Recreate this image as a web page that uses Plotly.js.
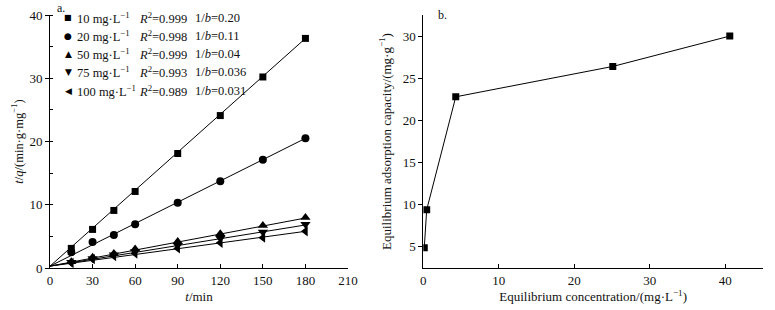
<!DOCTYPE html>
<html>
<head>
<meta charset="utf-8">
<script src="https://cdn.plot.ly/plotly-3.0.1.min.js"></script>
<style>html,body{margin:0;padding:0;background:#fff;}#chart{width:775px;height:310px;}</style>
</head>
<body>
<div id="chart"></div>
<script>
// ---- data (panel a: pseudo-second-order kinetics) ----
const times = [15, 30, 45, 60, 90, 120, 150, 180];
const concLabels = ["10 mg·L<sup>−1</sup>", "20 mg·L<sup>−1</sup>", "50 mg·L<sup>−1</sup>", "75 mg·L<sup>−1</sup>", "100 mg·L<sup>−1</sup>"];
const r2Values = ["0.999", "0.998", "0.999", "0.993", "0.989"];
const invBValues = ["0.20", "0.11", "0.04", "0.036", "0.031"];
const s10 = [3.1, 6.1, 9.1, 12.1, 18.1, 24.1, 30.2, 36.3];
const s20 = [2.5, 4.1, 5.2, 6.9, 10.3, 13.7, 17.1, 20.5];
const s50 = [1.0, 1.7, 2.3, 3.0, 4.2, 5.4, 6.7, 8.0];
const s75 = [0.9, 1.5, 2.1, 2.6, 3.6, 4.7, 5.7, 6.9];
const s100 = [0.8, 1.4, 1.9, 2.3, 3.1, 4.0, 4.8, 5.8];
const fitT = [0, 180];
const fit10 = [0.3, 36.3];
const fit20 = [0.3, 20.5];
const fit50 = [0.3, 7.9];
const fit75 = [0.3, 6.8];
const fit100 = [0.3, 5.8];
// ---- data (panel b: isotherm) ----
const eqConc = [0.13, 0.45, 4.3, 25.1, 40.6];
const eqCap = [4.9, 9.4, 22.8, 26.4, 30.0];
const xTicksA = [0, 30, 60, 90, 120, 150, 180, 210];
const yTicksA = [0, 10, 20, 30, 40];
const xTicksB = [0, 10, 20, 30, 40];
const yTicksB = [5, 10, 15, 20, 25, 30];

const seriesVals = [s10, s20, s50, s75, s100];
const fits = [fit10, fit20, fit50, fit75, fit100];
const symbols = ["square", "circle", "triangle-up", "triangle-down", "triangle-left"];
const symSizes = [7, 8, 9, 9, 9];
const glyphs = ["■", "●", "▲", "▼", "◀"];

const SERIF = "Liberation Serif, Times New Roman, serif";
const W = 775, H = 310, ML = 50, MR = 12, MT = 15, MB = 42;
const PW = W - ML - MR, PH = H - MT - MB;
const px2x = p => (p - ML) / PW;
const px2y = p => (H - MB - p) / PH;

const traces = [];
seriesVals.forEach((vals, i) => {
  traces.push({x: fitT, y: fits[i], mode: "lines", line: {color: "#000", width: 1},
    xaxis: "x", yaxis: "y", showlegend: false, hoverinfo: "skip"});
  traces.push({x: times, y: vals, mode: "markers", name: concLabels[i],
    marker: {symbol: symbols[i], size: symSizes[i], color: "#000"},
    xaxis: "x", yaxis: "y", showlegend: false});
});
traces.push({x: eqConc, y: eqCap, mode: "lines+markers",
  line: {color: "#000", width: 1}, marker: {symbol: "square", size: 7, color: "#000"},
  xaxis: "x2", yaxis: "y2", showlegend: false});

const annotations = [];
concLabels.forEach((lab, i) => {
  const ry = px2y(17.5 + i * 18.3);
  annotations.push({xref: "paper", yref: "paper", x: px2x(68), y: ry, text: glyphs[i],
    showarrow: false, xanchor: "center", yanchor: "middle",
    font: {family: "DejaVu Sans", size: i === 0 ? 8 : 9, color: "#000"}});
  annotations.push({xref: "paper", yref: "paper", x: px2x(75), y: ry, text: lab,
    showarrow: false, xanchor: "left", yanchor: "middle", font: {family: SERIF, size: 12.5, color: "#111"}});
  annotations.push({xref: "paper", yref: "paper", x: px2x(137), y: ry,
    text: "<i>R</i><sup>2</sup>=" + r2Values[i],
    showarrow: false, xanchor: "left", yanchor: "middle", font: {family: SERIF, size: 12.5, color: "#111"}});
  annotations.push({xref: "paper", yref: "paper", x: px2x(193), y: ry,
    text: "1/<i>b</i>=" + invBValues[i],
    showarrow: false, xanchor: "left", yanchor: "middle", font: {family: SERIF, size: 12.5, color: "#111"}});
});
annotations.push({xref: "paper", yref: "paper", x: px2x(55), y: px2y(8), text: "a.",
  showarrow: false, xanchor: "left", yanchor: "middle", font: {family: SERIF, size: 12, color: "#111"}});
annotations.push({xref: "paper", yref: "paper", x: px2x(436), y: px2y(15), text: "b.",
  showarrow: false, xanchor: "left", yanchor: "middle", font: {family: SERIF, size: 12, color: "#111"}});

const axisCommon = {
  showgrid: false, zeroline: false, showline: true, linecolor: "#000", linewidth: 1,
  tickcolor: "#000", tickwidth: 1, ticklen: 4,
  tickfont: {family: SERIF, size: 13, color: "#111"}
};

const layout = {
  width: W, height: H,
  margin: {l: ML, r: MR, t: MT, b: MB},
  paper_bgcolor: "#fff", plot_bgcolor: "#fff",
  showlegend: false,
  font: {family: SERIF, color: "#111"},
  xaxis: Object.assign({}, axisCommon, {
    domain: [0, px2x(348)], range: [0, 210], tickmode: "array", tickvals: xTicksA,
    ticks: "inside", anchor: "y",
    title: {text: "<i>t</i>/min", font: {family: SERIF, size: 13, color: "#111"}, standoff: 5}
  }),
  yaxis: Object.assign({}, axisCommon, {
    domain: [0, 1], range: [0, 40], tickmode: "array", tickvals: yTicksA,
    ticks: "outside", anchor: "x",
    minor: {dtick: 5, ticks: "inside", ticklen: 3, tickcolor: "#000"},
    title: {text: "<i>t</i>/<i>q</i>/(min·g·mg<sup>−1</sup>)", font: {family: SERIF, size: 12.5, color: "#111"}, standoff: 3}
  }),
  xaxis2: Object.assign({}, axisCommon, {
    domain: [px2x(423.3), 1], range: [0, 45], tickmode: "array", tickvals: xTicksB,
    ticks: "inside", anchor: "y2",
    title: {text: "Equilibrium concentration/(mg·L<sup>−1</sup>)", font: {family: SERIF, size: 13, color: "#111"}, standoff: 5}
  }),
  yaxis2: Object.assign({}, axisCommon, {
    domain: [0, 1], range: [2.5, 32.5], tickmode: "array", tickvals: yTicksB,
    ticks: "outside", anchor: "x2",
    title: {text: "Equilibrium adsorption capacity/(mg·g<sup>−1</sup>)", font: {family: SERIF, size: 13, color: "#111"}, standoff: 8}
  }),
  annotations: annotations
};

Plotly.newPlot("chart", traces, layout, {displayModeBar: false, staticPlot: true});
</script>
</body>
</html>
